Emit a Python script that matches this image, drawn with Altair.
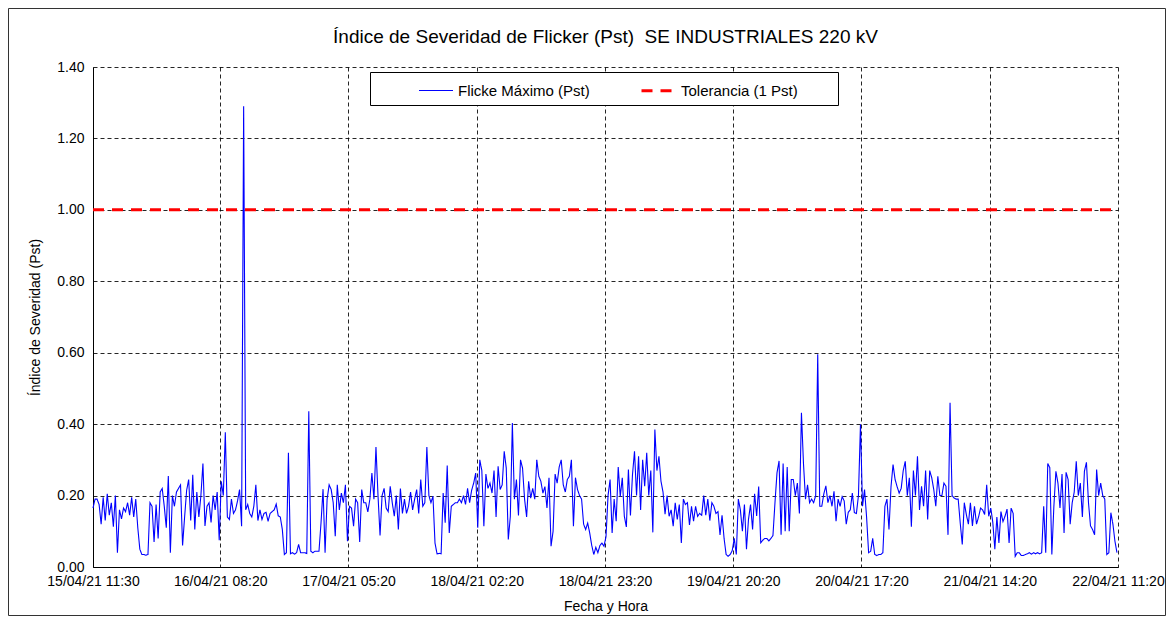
import altair as alt
import pandas as pd

# ---- data (Pst every 20 min) ----
seg1 = [0.165, 0.19, 0.19, 0.175, 0.12, 0.195, 0.13, 0.205, 0.145, 0.18,
        0.113, 0.2, 0.04, 0.16, 0.135, 0.165, 0.155, 0.18, 0.145, 0.195,
        0.14, 0.19, 0.11, 0.05, 0.035, 0.035, 0.033, 0.035, 0.18, 0.17,
        0.07, 0.175, 0.08, 0.21, 0.22, 0.17, 0.11, 0.255, 0.04, 0.2,
        0.17, 0.21, 0.22, 0.23, 0.06, 0.14, 0.215, 0.245, 0.13, 0.258,
        0.105, 0.21, 0.14, 0.2, 0.29, 0.115, 0.17, 0.18, 0.125, 0.2,
        0.16, 0.21, 0.075]
seg2 = [0.24, 0.2, 0.377, 0.14, 0.133, 0.19, 0.15, 0.16, 0.185, 0.217,
        0.114, 1.29, 0.16, 0.175, 0.15, 0.14, 0.17, 0.23, 0.13, 0.16,
        0.133, 0.15, 0.153, 0.128, 0.15, 0.155, 0.16, 0.176, 0.143, 0.14,
        0.105, 0.035, 0.04, 0.32, 0.037, 0.04, 0.036, 0.04, 0.063, 0.04,
        0.04, 0.04, 0.038, 0.436, 0.044, 0.04, 0.044, 0.044, 0.044, 0.123,
        0.218, 0.04, 0.19, 0.23, 0.217, 0.18, 0.086, 0.23, 0.16, 0.207,
        0.18, 0.23, 0.072, 0.17, 0.165, 0.114, 0.19]
seg3 = [0.18, 0.07, 0.217, 0.18, 0.18, 0.154, 0.19, 0.263, 0.19, 0.336,
        0.2, 0.088, 0.2, 0.22, 0.165, 0.155, 0.226, 0.18, 0.142, 0.2,
        0.105, 0.22, 0.15, 0.19, 0.15, 0.17, 0.21, 0.16, 0.19, 0.217,
        0.15, 0.245, 0.17, 0.18, 0.336, 0.2, 0.18, 0.198, 0.067, 0.037,
        0.038, 0.037, 0.207, 0.124, 0.284, 0.095, 0.17, 0.175, 0.18, 0.18,
        0.19, 0.18, 0.2, 0.175, 0.22, 0.18, 0.215, 0.235, 0.263, 0.11,
        0.3, 0.27]
seg4 = [0.114, 0.26, 0.22, 0.235, 0.207, 0.27, 0.14, 0.282, 0.217, 0.23,
        0.324, 0.277, 0.077, 0.142, 0.403, 0.19, 0.245, 0.144, 0.3, 0.277,
        0.19, 0.14, 0.24, 0.193, 0.22, 0.19, 0.3, 0.254, 0.24, 0.207,
        0.225, 0.165, 0.25, 0.058, 0.1, 0.26, 0.235, 0.28, 0.3, 0.23,
        0.21, 0.245, 0.254, 0.3, 0.114, 0.25, 0.217, 0.2, 0.19, 0.12,
        0.105, 0.123, 0.095, 0.06, 0.035, 0.055, 0.04, 0.06, 0.067, 0.058,
        0.085, 0.2, 0.245]
seg5 = [0.095, 0.19, 0.128, 0.28, 0.197, 0.25, 0.142, 0.112, 0.273, 0.144,
        0.258, 0.324, 0.2, 0.31, 0.16, 0.3, 0.226, 0.32, 0.2, 0.27,
        0.097, 0.385, 0.27, 0.31, 0.24, 0.21, 0.148, 0.2, 0.142, 0.16,
        0.114, 0.18, 0.133, 0.175, 0.067, 0.19, 0.175, 0.18, 0.118, 0.17,
        0.128, 0.17, 0.142, 0.15, 0.145, 0.2, 0.145, 0.19, 0.13, 0.18,
        0.17, 0.15, 0.155, 0.09, 0.145, 0.08, 0.035, 0.03, 0.035, 0.046,
        0.08, 0.035, 0.19]
seg6 = [0.16, 0.1, 0.175, 0.05, 0.134, 0.175, 0.105, 0.205, 0.143, 0.225,
        0.068, 0.075, 0.08, 0.08, 0.073, 0.08, 0.088, 0.18, 0.264, 0.297,
        0.09, 0.29, 0.1, 0.28, 0.1, 0.245, 0.245, 0.2, 0.235, 0.15,
        0.432, 0.29, 0.19, 0.23, 0.18, 0.19, 0.18, 0.2, 0.596, 0.17,
        0.17, 0.205, 0.227, 0.18, 0.2, 0.17, 0.212, 0.128, 0.19, 0.17,
        0.197, 0.185, 0.12, 0.153, 0.16, 0.207, 0.152, 0.15, 0.2, 0.4,
        0.17, 0.217, 0.14]
seg7 = [0.04, 0.044, 0.08, 0.035, 0.032, 0.035, 0.035, 0.04, 0.17, 0.19,
        0.105, 0.225, 0.287, 0.245, 0.225, 0.207, 0.22, 0.27, 0.296, 0.2,
        0.25, 0.113, 0.27, 0.2, 0.31, 0.16, 0.226, 0.17, 0.27, 0.133,
        0.27, 0.25, 0.217, 0.17, 0.254, 0.2, 0.2, 0.235, 0.226, 0.09,
        0.46, 0.2, 0.193, 0.19, 0.19, 0.123, 0.063, 0.18, 0.147, 0.12,
        0.18, 0.115, 0.17, 0.12, 0.14, 0.165, 0.16, 0.147, 0.23, 0.142,
        0.165, 0.125, 0.05]
seg8 = [0.14, 0.067, 0.155, 0.127, 0.142, 0.162, 0.067, 0.165, 0.15, 0.03,
        0.04, 0.04, 0.032, 0.032, 0.035, 0.037, 0.04, 0.036, 0.04, 0.037,
        0.04, 0.037, 0.04, 0.17, 0.04, 0.29, 0.278, 0.035, 0.17, 0.268,
        0.235, 0.165, 0.26, 0.095, 0.265, 0.245, 0.12, 0.18, 0.21, 0.296,
        0.2, 0.235, 0.14, 0.268, 0.293, 0.18, 0.115, 0.105, 0.09, 0.273,
        0.2, 0.235, 0.2, 0.19, 0.035, 0.04, 0.152, 0.12, 0.072, 0.04]

pst = seg1 + seg2 + seg3 + seg4 + seg5 + seg6 + seg7 + seg8

start = "2021-04-15T11:30:00"
end = "2021-04-22T11:20:00"
step = "20min"

serie_pst = "Flicke Máximo (Pst)"
serie_tol = "Tolerancia (1 Pst)"
tolerance = 1.0

tick_labels = ["15/04/21 11:30", "16/04/21 08:20", "17/04/21 05:20", "18/04/21 02:20",
               "18/04/21 23:20", "19/04/21 20:20", "20/04/21 17:20", "21/04/21 14:20",
               "22/04/21 11:20"]
y_ticks = [0.0, 0.2, 0.4, 0.6, 0.8, 1.0, 1.2, 1.4]

title_text = "Índice de Severidad de Flicker (Pst)\u00a0 SE INDUSTRIALES 220 kV"
x_title = "Fecha y Hora"
y_title = "Índice de Severidad (Pst)"

FONT = "Liberation Sans"

# ---- build tables ----
times = pd.date_range(start, periods=len(pst), freq=step)
df_pst = pd.DataFrame({"t": times.strftime("%Y-%m-%dT%H:%M:%SZ"), "v": pst, "serie": serie_pst})
df_tol = pd.DataFrame({"t": [start + "Z", end + "Z"], "v": [tolerance, tolerance], "serie": serie_tol})
data = pd.concat([df_pst, df_tol], ignore_index=True)


def dt(ts):
    return alt.DateTime(year=ts.year, month=ts.month, date=ts.day,
                        hours=ts.hour, minutes=ts.minute, utc=True)


tick_dt = [dt(pd.to_datetime(s, format="%d/%m/%y %H:%M")) for s in tick_labels]
dom = [dt(pd.Timestamp(start)), dt(pd.Timestamp(end))]

series_dom = [serie_pst, serie_tol]
leg = alt.Legend(title=None, orient="none", legendX=325, legendY=5, direction="horizontal",
                 symbolType="stroke", symbolSize=1156, labelFontSize=15, labelFont=FONT,
                 labelColor="black", columnPadding=45, labelOffset=4, padding=0,
                 labelLimit=400)

x_enc = alt.X("t:T", scale=alt.Scale(type="utc", domain=dom),
              axis=alt.Axis(values=tick_dt, format="%d/%m/%y %H:%M", title=x_title,
                            labelFlush=False, labelOverlap=False, labelPadding=7,
                            titlePadding=11))
y_enc = alt.Y("v:Q", scale=alt.Scale(domain=[0, 1.4], nice=False),
              axis=alt.Axis(values=y_ticks, format=".2f", title=y_title,
                            labelPadding=9, titlePadding=14))

lines = alt.Chart(data).mark_line().encode(
    x=x_enc,
    y=y_enc,
    color=alt.Color("serie:N", scale=alt.Scale(domain=series_dom, range=["#0000FF", "#FF0000"]), legend=leg),
    strokeDash=alt.StrokeDash("serie:N", scale=alt.Scale(domain=series_dom, range=[[1, 0], [11, 8]]), legend=leg),
    strokeWidth=alt.StrokeWidth("serie:N", scale=alt.Scale(domain=series_dom, range=[1.1, 3]), legend=leg),
)

one = pd.DataFrame({"k": [0]})
legend_box = alt.Chart(one).mark_rect(fill="white", stroke="black", strokeWidth=1).encode(
    x=alt.value(277.5), x2=alt.value(745.5), y=alt.value(5.5), y2=alt.value(38.5))

frame = alt.Chart(one).mark_rect(fill="white", fillOpacity=0, stroke="#333333", strokeWidth=1).encode(
    x=alt.value(-84.5), x2=alt.value(1072.5), y=alt.value(-58.5), y2=alt.value(548.5))

chart = alt.layer(lines, legend_box, frame).properties(
    width=1025, height=500,
    title=alt.TitleParams(text=title_text, fontSize=19, font=FONT, fontWeight="normal",
                          color="black", anchor="middle", offset=0, dy=39),
    autosize=alt.AutoSizeParams(type="none"),
    padding={"left": 85, "top": 59, "right": 48, "bottom": 49},
).configure_view(stroke=None).configure_axis(
    grid=True, gridColor="#000000", gridDash=[4, 3], gridOpacity=0.85, gridWidth=1,
    domainColor="#000000", domainWidth=1, ticks=False,
    labelFont=FONT, labelFontSize=14, labelColor="black",
    titleFont=FONT, titleFontSize=14, titleFontWeight="normal", titleColor="black",
)

chart.save("out.html", embed_options={"renderer": "svg", "actions": False})
